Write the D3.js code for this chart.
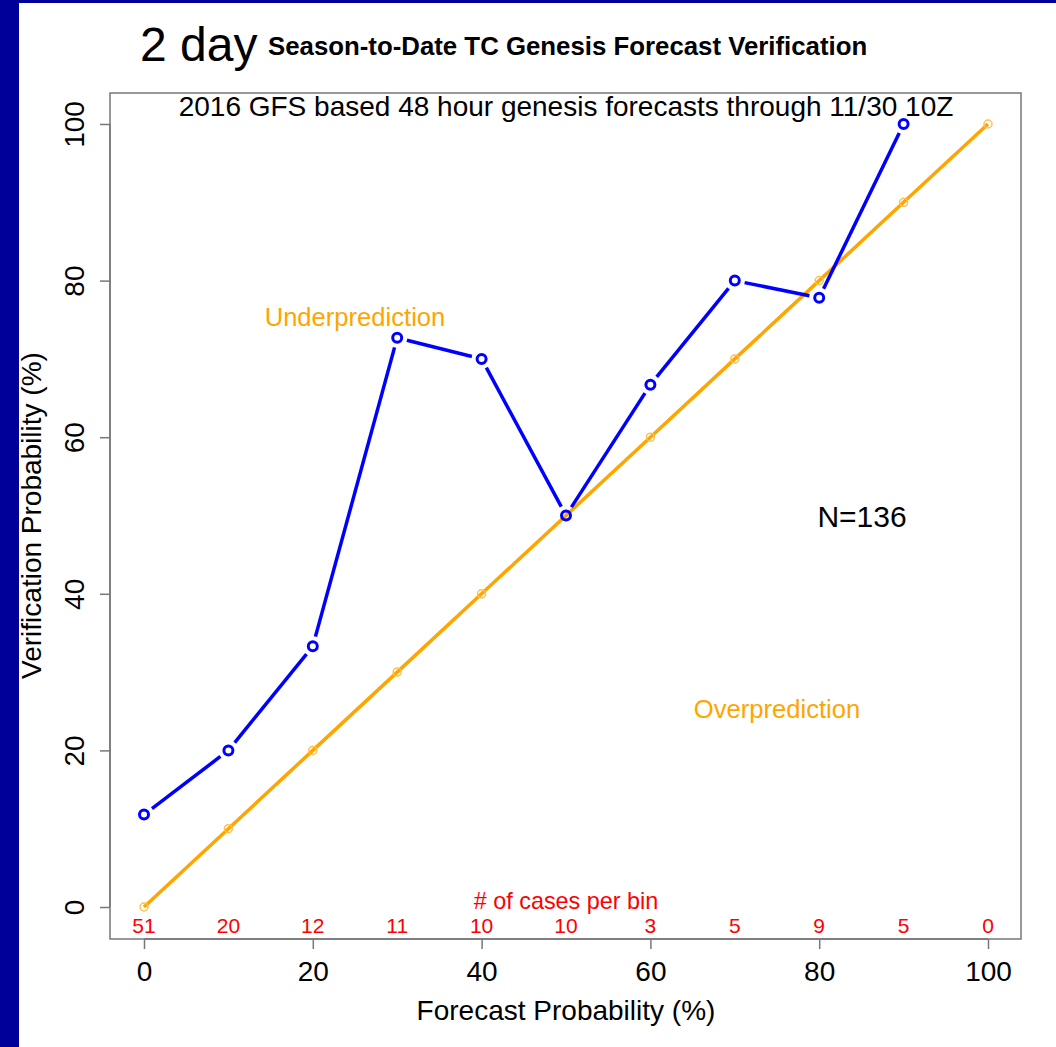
<!DOCTYPE html>
<html>
<head>
<meta charset="utf-8">
<script src="https://cdn.jsdelivr.net/npm/d3@7"></script>
<style>
  body { margin: 0; background: #fff; }
  svg { display: block; font-family: "Liberation Sans", Arial, Helvetica, sans-serif; }
</style>
</head>
<body>
<div id="main-chart"></div>
<script>
// forecast bins (%) and verification rate per bin
let bins = [0, 10, 20, 30, 40, 50, 60, 70, 80, 90];
let verified = [11.8, 20, 33.3, 72.7, 70, 50, 66.7, 80, 77.8, 100];
// perfect reliability line
let perfect = [0, 10, 20, 30, 40, 50, 60, 70, 80, 90, 100];
// number of cases in each bin
let countBins = [0, 10, 20, 30, 40, 50, 60, 70, 80, 90, 100];
let counts = [51, 20, 12, 11, 10, 10, 3, 5, 9, 5, 0];
let xTicks = [0, 20, 40, 60, 80, 100];
let yTicks = [0, 20, 40, 60, 80, 100];

let W = 1056, H = 1047;
let box = {left: 110, top: 93, right: 1021, bottom: 939};

let svg = d3.select('#main-chart')
  .append('svg')
  .attr('width', W)
  .attr('height', H);

// slide frame
svg.append('rect').attr('x', 0).attr('y', 0).attr('width', W).attr('height', H).attr('fill', '#000099');
svg.append('rect').attr('x', 19).attr('y', 3).attr('width', W - 19).attr('height', H - 3).attr('fill', '#fff');

let x = d3.scaleLinear().domain([0, 100]).range([144, 988]);
let y = d3.scaleLinear().domain([0, 100]).range([907, 124]);

// titles
svg.append('text').attr('x', 140).attr('y', 61).attr('font-size', 48).text('2 day');
svg.append('text').attr('x', 268).attr('y', 55).attr('font-size', 25.8).attr('font-weight', 'bold')
  .text('Season-to-Date TC Genesis Forecast Verification');

// plot box
svg.append('rect')
  .attr('x', box.left).attr('y', box.top)
  .attr('width', box.right - box.left).attr('height', box.bottom - box.top)
  .attr('fill', 'none').attr('stroke', '#777').attr('stroke-width', 1.5);

// axes
let xAxis = svg.append('g')
  .attr('transform', `translate(0,${box.bottom})`)
  .call(d3.axisBottom(x).tickValues(xTicks).tickSize(10).tickPadding(12).tickSizeOuter(0));
xAxis.select('.domain').attr('stroke', '#777').attr('stroke-width', 1.5).attr('d', `M${x(0)},0H${x(100)}`);
xAxis.selectAll('line').attr('stroke', '#777').attr('stroke-width', 1.5);
xAxis.selectAll('text').attr('font-size', 28).attr('fill', '#000').attr('font-family', null);

let yAxis = svg.append('g')
  .attr('transform', `translate(${box.left},0)`)
  .call(d3.axisLeft(y).tickValues(yTicks).tickSize(10).tickSizeOuter(0));
yAxis.select('.domain').attr('stroke', '#777').attr('stroke-width', 1.5).attr('d', `M0,${y(0)}V${y(100)}`);
yAxis.selectAll('line').attr('stroke', '#777').attr('stroke-width', 1.5);
yAxis.selectAll('text')
  .attr('font-size', 28).attr('fill', '#000').attr('font-family', null)
  .attr('x', null).attr('dy', null)
  .attr('text-anchor', 'middle')
  .attr('transform', 'translate(-26,0) rotate(-90)');

// axis titles
svg.append('text').attr('x', (x(0) + x(100)) / 2).attr('y', 1020)
  .attr('text-anchor', 'middle').attr('font-size', 28).text('Forecast Probability (%)');
svg.append('text')
  .attr('transform', `translate(41,${(y(0) + y(100)) / 2}) rotate(-90)`)
  .attr('text-anchor', 'middle').attr('font-size', 28).text('Verification Probability (%)');

// subtitle inside box
svg.append('text').attr('x', 566).attr('y', 116).attr('text-anchor', 'middle')
  .attr('font-size', 28).text('2016 GFS based 48 hour genesis forecasts through 11/30 10Z');

// perfect reliability line
let diag = perfect.map(v => [v, v]);
svg.append('path')
  .datum(diag)
  .attr('fill', 'none')
  .attr('stroke', '#FFA500')
  .attr('stroke-width', 3.5)
  .attr('d', d3.line().x(d => x(d[0])).y(d => y(d[1])));
svg.selectAll('.diag-pt')
  .data(diag)
  .join('circle')
  .attr('class', 'diag-pt')
  .attr('cx', d => x(d[0])).attr('cy', d => y(d[1]))
  .attr('r', 4)
  .attr('fill', 'none').attr('stroke', '#FFC04D').attr('stroke-width', 1.5);

// reliability curve, R type "b" (segments with gaps at points)
let pts = bins.map((b, i) => [x(b), y(verified[i])]);
let gap = 10;
let segs = d3.pairs(pts).map(([a, b]) => {
  let dx = b[0] - a[0], dy = b[1] - a[1], len = Math.hypot(dx, dy);
  let ux = dx / len, uy = dy / len;
  return [a[0] + ux * gap, a[1] + uy * gap, b[0] - ux * gap, b[1] - uy * gap];
});
svg.selectAll('.seg')
  .data(segs)
  .join('line')
  .attr('class', 'seg')
  .attr('x1', d => d[0]).attr('y1', d => d[1])
  .attr('x2', d => d[2]).attr('y2', d => d[3])
  .attr('stroke', '#0000FF').attr('stroke-width', 3.5);
svg.selectAll('.pt')
  .data(pts)
  .join('circle')
  .attr('class', 'pt')
  .attr('cx', d => d[0]).attr('cy', d => d[1])
  .attr('r', 4.5)
  .attr('fill', 'none').attr('stroke', '#0000FF').attr('stroke-width', 3);

// annotations
svg.append('text').attr('x', 355).attr('y', 326).attr('text-anchor', 'middle')
  .attr('font-size', 25.6).attr('fill', '#FFA500').text('Underprediction');
svg.append('text').attr('x', 777).attr('y', 718).attr('text-anchor', 'middle')
  .attr('font-size', 25.6).attr('fill', '#FFA500').text('Overprediction');
svg.append('text').attr('x', 862).attr('y', 527).attr('text-anchor', 'middle')
  .attr('font-size', 30).attr('fill', '#000').text('N=136');

// cases per bin
svg.append('text').attr('x', 566).attr('y', 909).attr('text-anchor', 'middle')
  .attr('font-size', 23.4).attr('fill', '#FF0000').text('# of cases per bin');
svg.selectAll('.count')
  .data(counts)
  .join('text')
  .attr('class', 'count')
  .attr('x', (d, i) => x(countBins[i]))
  .attr('y', 933)
  .attr('text-anchor', 'middle')
  .attr('font-size', 21)
  .attr('fill', '#FF0000')
  .text(d => d);
</script>
</body>
</html>
